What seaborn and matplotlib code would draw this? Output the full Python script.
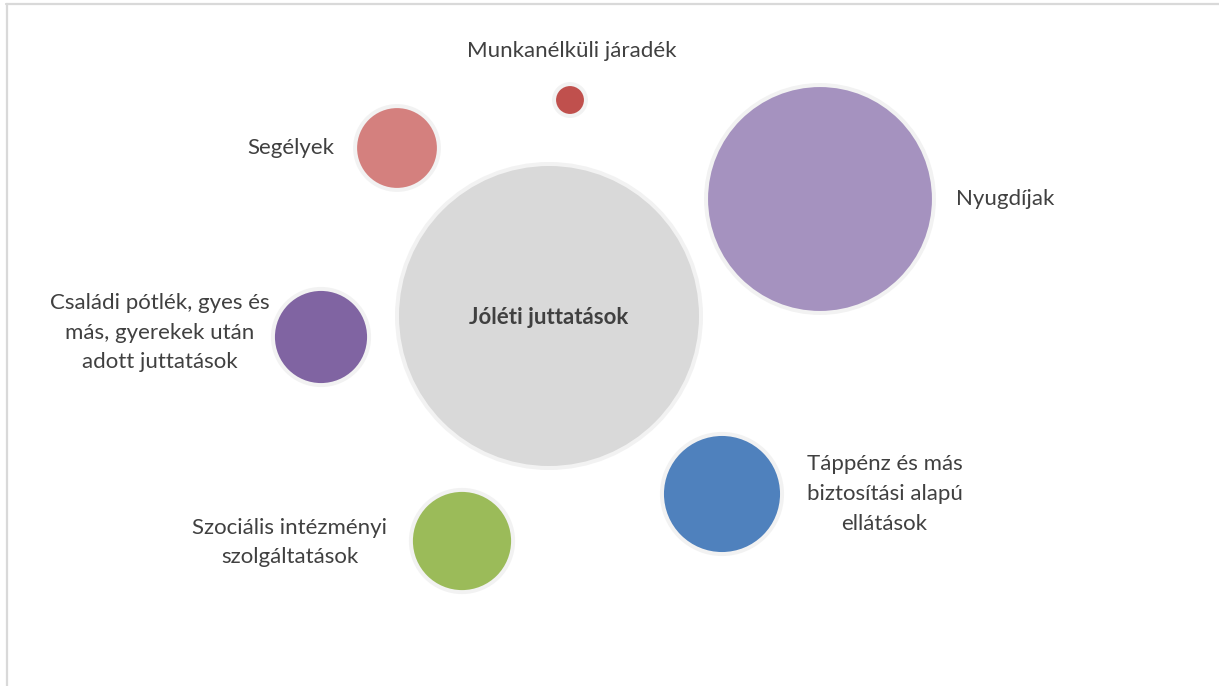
import matplotlib
matplotlib.use("Agg")
import matplotlib.pyplot as plt
from matplotlib.lines import Line2D
import seaborn as sns
import pandas as pd

# ---- data ----
categories = [
    "Jóléti juttatások",
    "Nyugdíjak",
    "Táppénz és más\nbiztosítási alapú\nellátások",
    "Szociális intézményi\nszolgáltatások",
    "Családi pótlék, gyes és\nmás, gyerekek után\nadott juttatások",
    "Segélyek",
    "Munkanélküli járadék",
]
bubble_x = [549, 820, 722, 462, 321, 397, 570]
bubble_y = [316, 199, 494, 541, 337, 148, 100]
bubble_value = [100.0, 56.2, 15.6, 11.3, 10.0, 7.6, 1.1]

# ---- styles ----
colors = ["#D9D9D9", "#A592BF", "#4F81BD", "#9BBB59", "#8064A2", "#D4807E", "#C0504D"]
label_offsets = [(0, -1), (98, 0), (117, 0), (-124, -1), (-116, 3), (-45, 0), (1, 35)]
label_ha = ["center", "left", "center", "center", "center", "right", "center"]
text_color = "#404040"
FS = 16

sns.set_theme(style="white")
plt.rcParams["font.family"] = ["Lato", "DejaVu Sans"]

df = pd.DataFrame({"category": categories, "x": bubble_x, "y": bubble_y, "value": bubble_value})

W, H, DPI = 1219, 686, 100
fig = plt.figure(figsize=(W / DPI, H / DPI), dpi=DPI)
ax = fig.add_axes([0, 0, 1, 1])
ax.set_xlim(0, W)
ax.set_ylim(H, 0)
ax.axis("off")

R_max_px = 152
s_max = (2 * R_max_px * 72 / DPI) ** 2
sns.scatterplot(
    data=df, x="x", y="y", hue="category", palette=colors,
    size="value", sizes=(0, s_max), size_norm=(0, 100),
    edgecolor="#F2F2F2", linewidth=4 * 72 / DPI, legend=False, ax=ax, zorder=2,
)

for i, row in df.iterrows():
    if i == 0:
        ax.annotate(row["category"], xy=(row["x"], row["y"]), xytext=label_offsets[i],
                    textcoords="offset points", ha="center", va="center",
                    fontsize=FS, fontweight="bold", color=text_color, zorder=3)
    else:
        ax.annotate(row["category"], xy=(row["x"], row["y"]), xytext=label_offsets[i],
                    textcoords="offset points", ha=label_ha[i], va="center",
                    multialignment="center", linespacing=1.6,
                    fontsize=FS, color=text_color, zorder=3)

# chart area frame (top and left edges visible)
fig.add_artist(Line2D([6 / W, 1], [1 - 4 / H, 1 - 4 / H], transform=fig.transFigure,
                      color="#D9D9D9", lw=1.6))
fig.add_artist(Line2D([7 / W, 7 / W], [0, 1 - 4 / H], transform=fig.transFigure,
                      color="#D9D9D9", lw=1.6))

fig.savefig("out.png", dpi=DPI, facecolor="white")
